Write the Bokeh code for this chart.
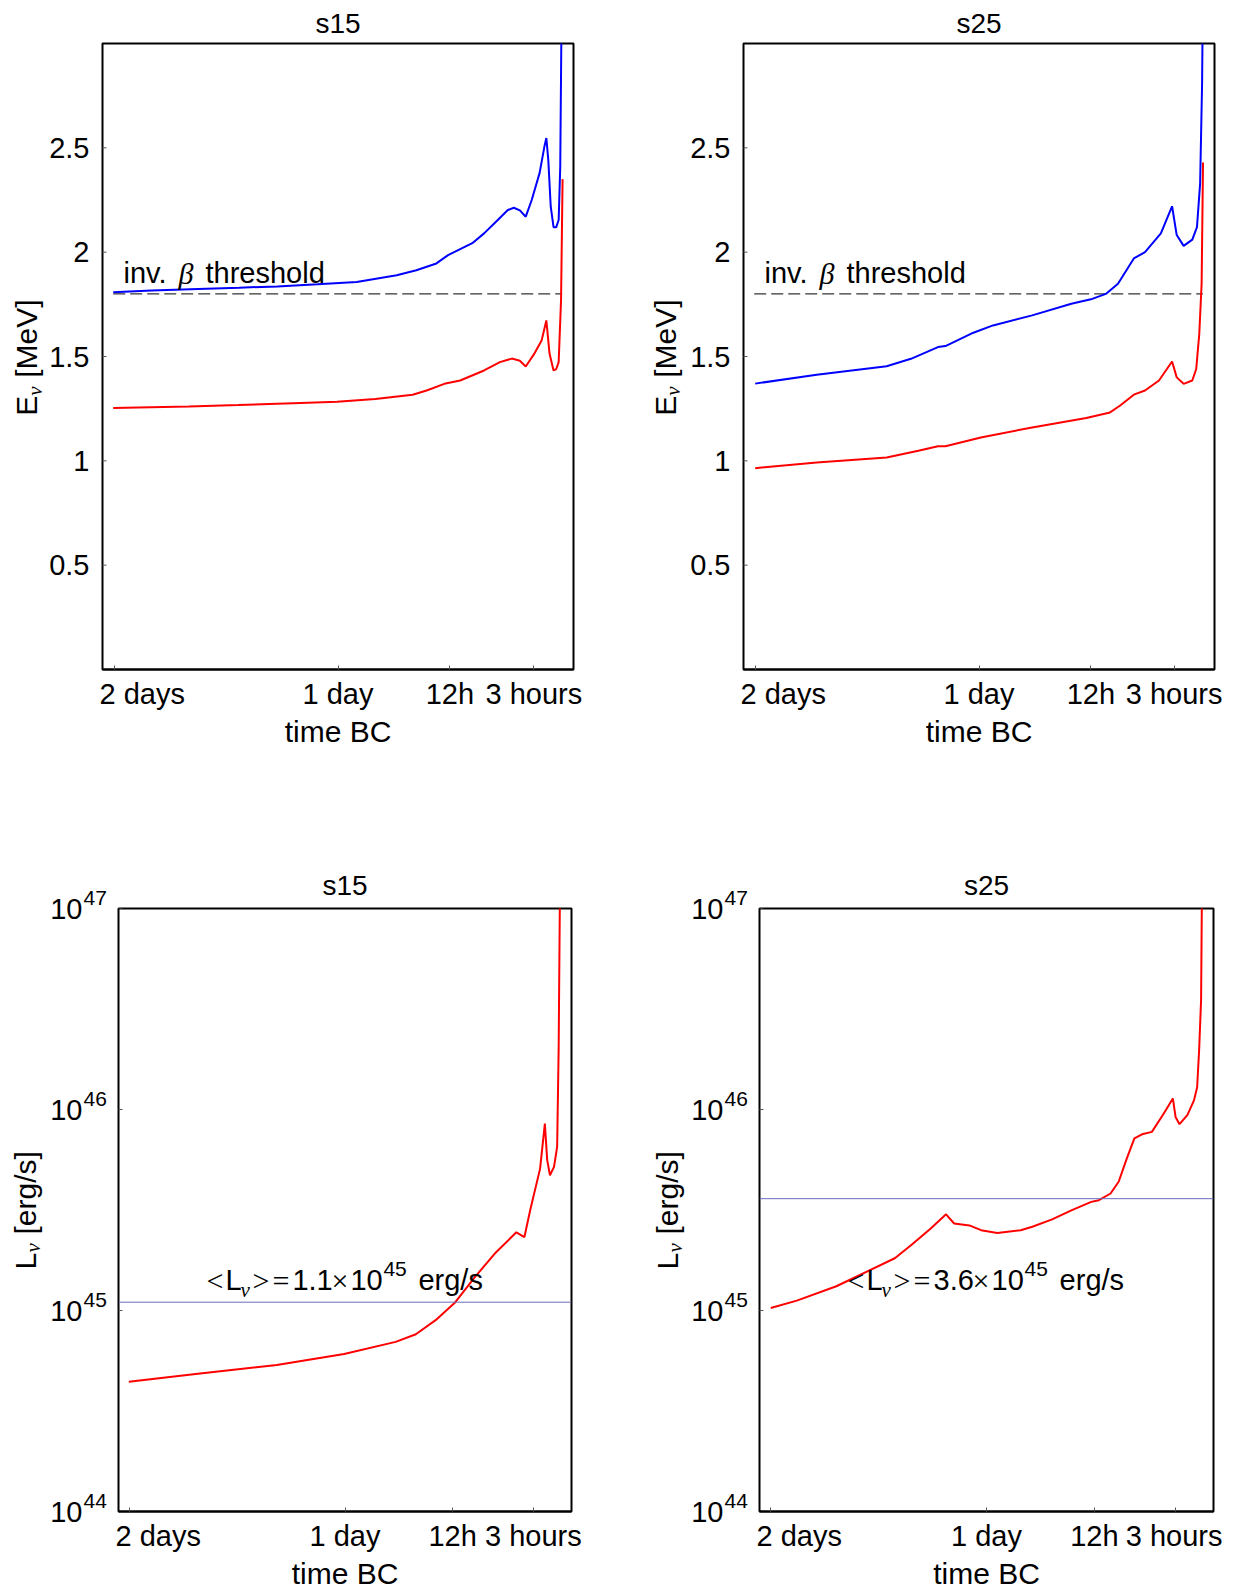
import math
from bokeh.plotting import figure
from bokeh.layouts import column, row
from bokeh.models import Range1d, FixedTicker, Span
from bokeh.embed import file_html
from bokeh.resources import INLINE
from bokeh.core.properties import value

# ---------------- data ----------------
TICK_HOURS = [48, 24, 12, 3]
TICK_LABELS = ["2 days", "1 day", "12h", "3 hours"]

E_TICKS = [0.5, 1.0, 1.5, 2.0, 2.5]
E_TICK_LABELS = ["0.5", "1", "1.5", "2", "2.5"]
L_TICKS = [1e44, 1e45, 1e46, 1e47]
L_TICK_BASE = ["10", "10", "10", "10"]
L_TICK_EXP = ["44", "45", "46", "47"]

THRESHOLD_E = 1.8           # MeV
THRESHOLD_T = [48.1, 0.0]   # hours before collapse

# s15 mean energies (hours before collapse, MeV)
S15_BLUE_T = [48.1, 44.0, 39.0, 34.6, 30.5, 26.2, 22.0, 17.7, 15.6, 13.45, 12.2, 9.6, 8.34,
              7.06, 5.79, 5.15, 4.5, 3.87, 3.23, 2.38, 1.87, 1.66, 1.45, 1.19, 0.89, 0.6,
              0.34, 0.17, 0.02]
S15_BLUE_E = [1.808, 1.816, 1.824, 1.830, 1.836, 1.846, 1.857, 1.889, 1.913, 1.946, 1.986,
              2.043, 2.09, 2.146, 2.202, 2.213, 2.200, 2.170, 2.25, 2.38, 2.506, 2.547, 2.44,
              2.218, 2.12, 2.12, 2.154, 2.41, 3.2]
S15_RED_T = [48.1, 40.0, 34.7, 28.0, 24.1, 20.0, 16.0, 14.5, 12.6, 10.9, 8.34, 6.64, 5.36,
             4.5, 3.87, 3.0, 2.17, 1.66, 1.32, 0.89, 0.6, 0.34, 0.085, -0.08]
S15_RED_E = [1.253, 1.26, 1.267, 1.277, 1.283, 1.296, 1.317, 1.337, 1.369, 1.385, 1.433,
             1.473, 1.49, 1.48, 1.452, 1.51, 1.577, 1.673, 1.514, 1.433, 1.44, 1.473, 1.77,
             2.35]

# s25 mean energies
S25_BLUE_T = [48.0, 41.4, 33.9, 31.3, 28.4, 27.6, 24.6, 22.5, 18.3, 14.1, 12.0, 10.4, 9.1,
              7.4, 6.2, 4.5, 3.3, 2.8, 2.06, 1.13, 0.63, 0.29, 0.08, 0.0]
S25_BLUE_E = [1.37, 1.413, 1.453, 1.489, 1.545, 1.55, 1.614, 1.649, 1.697, 1.753, 1.774,
              1.80, 1.849, 1.97, 2.0, 2.09, 2.22, 2.082, 2.03, 2.06, 2.12, 2.33, 2.81, 3.2]
S25_RED_T = [48.0, 41.4, 33.9, 30.5, 28.4, 27.6, 23.8, 18.3, 12.5, 9.95, 8.9, 7.4, 6.2, 4.7,
             3.3, 2.8, 2.06, 1.13, 0.71, 0.38, 0.13, -0.02]
S25_RED_E = [0.965, 0.992, 1.016, 1.048, 1.07, 1.07, 1.112, 1.16, 1.205, 1.232, 1.264, 1.317,
             1.337, 1.385, 1.476, 1.40, 1.369, 1.385, 1.44, 1.61, 1.85, 2.43]

# luminosities (erg/s)
S15_L_T = [48.1, 40.4, 31.6, 24.1, 18.35, 16.1, 13.9, 11.7, 9.5, 7.3, 4.9, 4.0, 3.35, 2.25,
           1.72, 1.46, 1.15, 0.7, 0.35, 0.18, 0.0]
S15_L = [4.42e44, 4.85e44, 5.35e44, 6.07e44, 6.98e44, 7.62e44, 8.95e44, 1.10e45, 1.47e45,
         1.92e45, 2.45e45, 2.32e45, 3.16e45, 5.08e45, 8.51e45, 5.60e45, 4.71e45, 5.18e45,
         6.52e45, 2.04e46, 2.0e47]
S15_L_MEAN = 1.1e45

S25_L_T = [48.0, 45.1, 40.7, 34.2, 32.4, 30.2, 28.5, 27.6, 25.9, 24.6, 22.8, 20.2, 18.9,
           16.7, 14.5, 12.35, 11.5, 10.2, 9.3, 8.4, 7.55, 6.7, 5.6, 4.28, 3.27, 2.97, 2.53,
           1.66, 0.92, 0.57, 0.35, 0.13, 0.0]
S25_L = [1.03e45, 1.12e45, 1.32e45, 1.82e45, 2.11e45, 2.56e45, 3.01e45, 2.71e45, 2.65e45,
         2.51e45, 2.43e45, 2.51e45, 2.61e45, 2.84e45, 3.16e45, 3.47e45, 3.54e45, 3.82e45,
         4.37e45, 5.70e45, 7.18e45, 7.53e45, 7.74e45, 9.55e45, 1.135e46, 9.18e45, 8.45e45,
         9.38e45, 1.11e46, 1.29e46, 1.97e46, 3.50e46, 2.0e47]
S25_L_MEAN = 3.6e45

# ---------------- style / layout ----------------
SANS = "Liberation Sans"
SERIF = "Liberation Serif"
BLUE = "#0000ff"
RED = "#ff0000"
MEAN_COLOR = "#6b6bbf"
X_LEFT = 49.25
X_RIGHT = -1.25
E_MIN, E_MAX = 0.0, 3.0
LOG_MIN, LOG_MAX = 44.0, 47.0
MBL = 3  # gap between side label strip and plot frame


def txt(p, x, y, s, font, size, style="normal", align="left", dx=0, dy=0, angle=0.0):
    # text with baseline "middle"; dy in px (positive = down)
    p.text([x], [y], text=[s], text_font=value(font), text_font_size=value(size),
           text_font_style=style, text_align=align, text_baseline="middle",
           text_color="black", x_offset=dx, y_offset=dy, angle=angle)


def make_main(fw, fh, bt, bb, br, title, ylog, title_standoff):
    yr = Range1d(10.0 ** LOG_MIN, 10.0 ** LOG_MAX) if ylog else Range1d(E_MIN, E_MAX)
    p = figure(frame_width=fw, frame_height=fh, x_range=Range1d(X_LEFT, X_RIGHT), y_range=yr,
               y_axis_type="log" if ylog else "linear", y_axis_location=None,
               output_backend="svg", toolbar_location=None, frame_align=False,
               min_border_left=MBL, min_border_right=br,
               min_border_top=bt, min_border_bottom=bb, title=title)
    p.title.align = "center"
    p.title.text_font = SANS
    p.title.text_font_size = "28px"
    p.title.text_font_style = "normal"
    p.title.text_color = "black"
    p.title.standoff = title_standoff
    p.grid.visible = False
    p.outline_line_color = "black"
    p.outline_line_width = 2
    p.outline_line_alpha = 1
    xa = p.xaxis[0]
    xa.axis_line_color = "black"
    xa.axis_line_width = 2
    xa.major_tick_in = 4
    xa.major_tick_out = 0
    xa.major_tick_line_color = "#555555"
    xa.major_tick_line_width = 1
    xa.minor_tick_line_color = None
    xa.ticker = FixedTicker(ticks=TICK_HOURS)
    xa.major_label_overrides = dict(zip(TICK_HOURS, TICK_LABELS))
    xa.major_label_text_font = SANS
    xa.major_label_text_font_size = "29px"
    xa.major_label_text_color = "black"
    xa.axis_label = "time BC"
    xa.axis_label_text_font = SANS
    xa.axis_label_text_font_size = "30px"
    xa.axis_label_text_font_style = "normal"
    xa.axis_label_text_color = "black"
    xa.major_label_standoff = 8
    xa.axis_label_standoff = 2
    # inner y tick marks on the left frame edge (outer half is clipped by the frame)
    ticks = L_TICKS if ylog else E_TICKS
    p.scatter([X_LEFT] * len(ticks), ticks, marker="dash", size=8, line_color="#555555",
              line_width=1)
    return p


def make_side(sw, fh, bt, bb, ylog):
    # label strip left of the plot, sharing the plot's vertical scale
    if ylog:
        per = fh / (LOG_MAX - LOG_MIN)
        yr = Range1d(10.0 ** (LOG_MIN - bb / per), 10.0 ** (LOG_MAX + bt / per))
    else:
        upx = (E_MAX - E_MIN) / fh
        yr = Range1d(E_MIN - bb * upx, E_MAX + bt * upx)
    s = figure(width=sw, height=bt + fh + bb, x_range=Range1d(0, sw), y_range=yr,
               y_axis_type="log" if ylog else "linear",
               x_axis_location=None, y_axis_location=None, frame_align=False,
               output_backend="svg", toolbar_location=None, min_border=0)
    s.outline_line_color = None
    s.grid.visible = False
    return s


def energy_side(s, sw, lab_off):
    edge = sw + MBL
    for t, lab in zip(E_TICKS, E_TICK_LABELS):
        txt(s, edge - 13, t, lab, SANS, "29px", align="right")
    ya = 1.216
    c = edge - lab_off
    txt(s, c, ya, "E", SANS, "30px", angle=math.pi / 2)
    txt(s, c + 8, ya, "\u03bd", SERIF, "21px", style="italic", dy=-20, angle=math.pi / 2)
    txt(s, c, ya, "[MeV]", SANS, "30px", dy=-38, angle=math.pi / 2)


def lum_side(s, sw, lab_off):
    edge = sw + MBL
    for t, b, e in zip(L_TICKS, L_TICK_BASE, L_TICK_EXP):
        txt(s, edge - 36, t, b, SANS, "29px", align="right")
        txt(s, edge - 35, t, e, SANS, "21px", align="left", dy=-11)
    ya = 1.6e45
    c = edge - lab_off
    txt(s, c, ya, "L", SANS, "30px", angle=math.pi / 2)
    txt(s, c + 8, ya, "\u03bd", SERIF, "21px", style="italic", dy=-17, angle=math.pi / 2)
    txt(s, c, ya, "[erg/s]", SANS, "30px", dy=-35, angle=math.pi / 2)


def energy_panel(p, bt, be, rt, re_):
    p.line(THRESHOLD_T, [THRESHOLD_E, THRESHOLD_E], line_color="black", line_width=1,
           line_dash="12 5")
    p.line(bt, be, line_color=BLUE, line_width=2)
    p.line(rt, re_, line_color=RED, line_width=2)
    x0, y0 = 47.0, 1.852
    txt(p, x0, y0, "inv.", SANS, "29px", dy=-10)
    txt(p, x0, y0, "\u03b2", SERIF, "30px", style="italic", dx=55, dy=-10)
    txt(p, x0, y0, "threshold", SANS, "29px", dx=82, dy=-10)


def lum_panel(p, t, L, mean, mean_text):
    p.add_layout(Span(location=mean, dimension="width", line_color=MEAN_COLOR, line_width=1))
    p.line(t, L, line_color=RED, line_width=2)
    x0, y0 = 39.45, 1.26e45
    pieces = [
        ("<", 0, -10, SERIF, "30px", "normal"),
        ("L", 19, -10, SANS, "29px", "normal"),
        ("\u03bd", 34, 0, SERIF, "21px", "italic"),
        (">", 46, -10, SERIF, "30px", "normal"),
        ("=", 66, -10, SERIF, "30px", "normal"),
        (mean_text, 86, -10, SANS, "29px", "normal"),
        ("\u00d7", 125, -10, SERIF, "30px", "normal"),
        ("10", 144, -10, SANS, "29px", "normal"),
        ("45", 177, -21, SANS, "21px", "normal"),
        ("erg/s", 212, -10, SANS, "29px", "normal"),
    ]
    for s_, dx, dy, font, size, style in pieces:
        txt(p, x0, y0, s_, font, size, style=style, dx=dx, dy=dy)


# row 1 geometry (top border, frame height, bottom border)
R1_TOP, R1_FH, R1_BOT = 43, 626, 117
# row 2 geometry
R2_TOP, R2_FH, R2_BOT = 122, 603, 76

sA = make_side(99, R1_FH, R1_TOP, R1_BOT, False)
energy_side(sA, 99, 76)
pA = make_main(471, R1_FH, R1_TOP, R1_BOT, 57, "s15", False, 9)
energy_panel(pA, S15_BLUE_T, S15_BLUE_E, S15_RED_T, S15_RED_E)

sB = make_side(110, R1_FH, R1_TOP, R1_BOT, False)
energy_side(sB, 110, 78.5)
pB = make_main(471, R1_FH, R1_TOP, R1_BOT, 8, "s25", False, 9)
energy_panel(pB, S25_BLUE_T, S25_BLUE_E, S25_RED_T, S25_RED_E)

sC = make_side(115, R2_FH, R2_TOP, R2_BOT, True)
lum_side(sC, 115, 93.5)
pC = make_main(453, R2_FH, R2_TOP, R2_BOT, 59, "s15", True, 15)
lum_panel(pC, S15_L_T, S15_L, S15_L_MEAN, "1.1")

sD = make_side(126, R2_FH, R2_TOP, R2_BOT, True)
lum_side(sD, 126, 92.5)
pD = make_main(454, R2_FH, R2_TOP, R2_BOT, 9, "s25", True, 15)
lum_panel(pD, S25_L_T, S25_L, S25_L_MEAN, "3.6")

layout = column(row(sA, pA, sB, pB), row(sC, pC, sD, pD))

with open("out.html", "w") as f:
    f.write(file_html(layout, INLINE, title="neutrino"))
